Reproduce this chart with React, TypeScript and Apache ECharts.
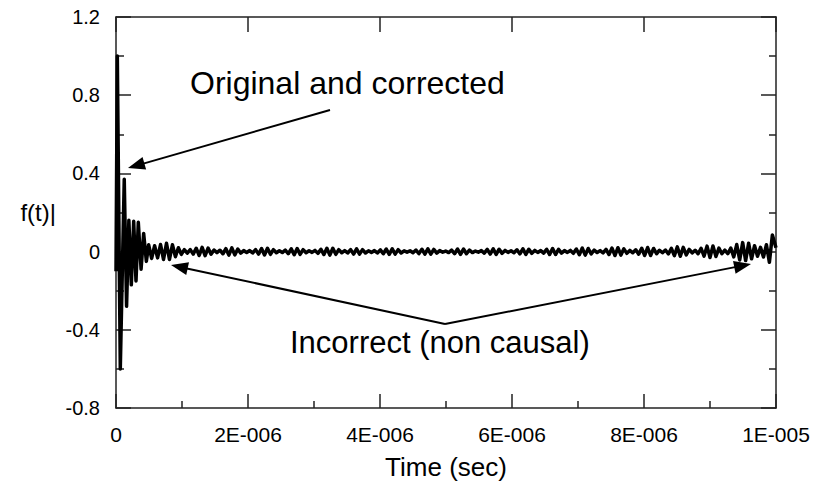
import React, { useEffect, useRef } from "react";
import * as echarts from "echarts";

// Time in microseconds (axis labels show seconds)
const ringdownTimes = [0, 0.02, 0.065, 0.125, 0.16, 0.195, 0.232, 0.268, 0.303, 0.338, 0.38, 0.419, 0.46, 0.495];
const ringdownValues = [-0.1, 1.0, -0.6, 0.37, -0.28, 0.16, -0.17, 0.155, -0.15, 0.15, -0.09, 0.093, -0.05, 0.035];

const rippleTimes = [
  0.54, 0.585, 0.63, 0.675, 0.72, 0.765, 0.81, 0.855, 0.9, 0.945,
  0.99, 1.035, 1.08, 1.125, 1.17, 1.215, 1.26, 1.305, 1.35, 1.395,
  1.44, 1.485, 1.53, 1.575, 1.62, 1.665, 1.71, 1.755, 1.8, 1.845,
  1.89, 1.935, 1.98, 2.025, 2.07, 2.115, 2.16, 2.205, 2.25, 2.295,
  2.34, 2.385, 2.43, 2.475, 2.52, 2.565, 2.61, 2.655, 2.7, 2.745,
  2.79, 2.835, 2.88, 2.925, 2.97, 3.015, 3.06, 3.105, 3.15, 3.195,
  3.24, 3.285, 3.33, 3.375, 3.42, 3.465, 3.51, 3.555, 3.6, 3.645,
  3.69, 3.735, 3.78, 3.825, 3.87, 3.915, 3.96, 4.005, 4.05, 4.095,
  4.14, 4.185, 4.23, 4.275, 4.32, 4.365, 4.41, 4.455, 4.5, 4.545,
  4.59, 4.635, 4.68, 4.725, 4.77, 4.815, 4.86, 4.905, 4.95, 4.995,
  5.04, 5.085, 5.13, 5.175, 5.22, 5.265, 5.31, 5.355, 5.4, 5.445,
  5.49, 5.535, 5.58, 5.625, 5.67, 5.715, 5.76, 5.805, 5.85, 5.895,
  5.94, 5.985, 6.03, 6.075, 6.12, 6.165, 6.21, 6.255, 6.3, 6.345,
  6.39, 6.435, 6.48, 6.525, 6.57, 6.615, 6.66, 6.705, 6.75, 6.795,
  6.84, 6.885, 6.93, 6.975, 7.02, 7.065, 7.11, 7.155, 7.2, 7.245,
  7.29, 7.335, 7.38, 7.425, 7.47, 7.515, 7.56, 7.605, 7.65, 7.695,
  7.74, 7.785, 7.83, 7.875, 7.92, 7.965, 8.01, 8.055, 8.1, 8.145,
  8.19, 8.235, 8.28, 8.325, 8.37, 8.415, 8.46, 8.505, 8.55, 8.595,
  8.64, 8.685, 8.73, 8.775, 8.82, 8.865, 8.91, 8.955, 9.0, 9.045,
  9.09, 9.135, 9.18, 9.225, 9.27, 9.315, 9.36, 9.405, 9.45, 9.495,
  9.54, 9.585, 9.63, 9.675, 9.72, 9.765, 9.81, 9.855, 9.9, 9.945,
  10.0,
];
const rippleValues = [
  -0.035, 0.03, -0.032, 0.036, -0.04, 0.043, -0.04, 0.035, -0.026, 0.02,
  -0.014, 0.01, -0.008, 0.01, -0.013, 0.017, -0.02, 0.022, -0.021, 0.018,
  -0.013, 0.008, -0.005, 0.007, -0.011, 0.015, -0.018, 0.019, -0.017, 0.013,
  -0.008, 0.005, -0.004, 0.005, -0.007, 0.01, -0.013, 0.016, -0.017, 0.017,
  -0.014, 0.01, -0.006, 0.004, -0.005, 0.008, -0.011, 0.014, -0.016, 0.016,
  -0.014, 0.01, -0.006, 0.004, -0.004, 0.006, -0.009, 0.012, -0.015, 0.017,
  -0.018, 0.017, -0.014, 0.01, -0.006, 0.005, -0.007, 0.01, -0.013, 0.014,
  -0.013, 0.01, -0.007, 0.004, -0.004, 0.005, -0.007, 0.009, -0.011, 0.013,
  -0.014, 0.014, -0.013, 0.01, -0.007, 0.004, -0.003, 0.004, -0.006, 0.008,
  -0.01, 0.012, -0.013, 0.014, -0.013, 0.011, -0.008, 0.005, -0.003, 0.003,
  -0.005, 0.008, -0.011, 0.013, -0.014, 0.013, -0.011, 0.008, -0.005, 0.003,
  -0.003, 0.005, -0.008, 0.011, -0.013, 0.014, -0.014, 0.012, -0.009, 0.006,
  -0.004, 0.004, -0.006, 0.009, -0.012, 0.014, -0.014, 0.012, -0.009, 0.006,
  -0.004, 0.005, -0.008, 0.012, -0.015, 0.016, -0.015, 0.012, -0.008, 0.005,
  -0.004, 0.006, -0.009, 0.013, -0.016, 0.018, -0.018, 0.016, -0.012, 0.008,
  -0.005, 0.005, -0.007, 0.011, -0.015, 0.018, -0.02, 0.02, -0.018, 0.014,
  -0.009, 0.006, -0.006, 0.009, -0.013, 0.017, -0.02, 0.021, -0.02, 0.016,
  -0.011, 0.007, -0.006, 0.008, -0.012, 0.017, -0.021, 0.024, -0.024, 0.022,
  -0.017, 0.011, -0.007, 0.007, -0.011, 0.017, -0.023, 0.028, -0.03, 0.029,
  -0.025, 0.018, -0.011, 0.008, -0.011, 0.018, -0.027, 0.036, -0.043, 0.046,
  -0.046, 0.043, -0.037, 0.03, -0.024, 0.022, -0.028, 0.035, -0.055, 0.085,
  0.02,
];

const xTickLabels = ["0", "2E-006", "4E-006", "6E-006", "8E-006", "1E-005"];
const yTickLabels = ["-0.8", "-0.4", "0", "0.4", "0.8", "1.2"];

const FONT = "'Liberation Sans', Arial, Helvetica, sans-serif";
const AXIS_COLOR = "#222";

function arrow(x1: number, y1: number, x2: number, y2: number, len = 17, hw = 6.5) {
  const dx = x2 - x1;
  const dy = y2 - y1;
  const L = Math.hypot(dx, dy);
  const ux = dx / L;
  const uy = dy / L;
  const bx = x2 - ux * len;
  const by = y2 - uy * len;
  return [
    {
      type: "line",
      silent: true,
      shape: { x1, y1, x2: bx + ux * 2, y2: by + uy * 2 },
      style: { stroke: "#000", lineWidth: 2 },
    },
    {
      type: "polygon",
      silent: true,
      shape: {
        points: [
          [x2, y2],
          [bx - uy * hw, by + ux * hw],
          [bx + uy * hw, by - ux * hw],
        ],
      },
      style: { fill: "#000" },
    },
  ];
}

export default function App() {
  const ref = useRef<HTMLDivElement>(null);

  useEffect(() => {
    if (!ref.current) return;
    const chart = echarts.init(ref.current, null, { renderer: "svg" });

    const data: [number, number][] = [];
    ringdownTimes.forEach((t, i) => data.push([t, ringdownValues[i]]));
    rippleTimes.forEach((t, i) => data.push([t, rippleValues[i]]));

    const lineStyle = { color: AXIS_COLOR, width: 1.5 };

    chart.setOption({
      animation: false,
      backgroundColor: "#fff",
      grid: { left: 116, top: 17, right: 39, bottom: 74, containLabel: false },
      xAxis: [
        {
          type: "value",
          position: "bottom",
          min: 0,
          max: 10,
          interval: 2,
          axisLine: { show: true, onZero: false, lineStyle },
          axisTick: { show: true, inside: true, length: 14, lineStyle },
          minorTick: { show: true, splitNumber: 2, length: 7, lineStyle },
          splitLine: { show: false },
          minorSplitLine: { show: false },
          axisLabel: {
            formatter: (v: number) => xTickLabels[Math.round(v / 2)] ?? "",
            margin: 16,
            fontSize: 21,
            color: "#000",
            fontFamily: FONT,
          },
          name: "Time (sec)",
          nameLocation: "middle",
          nameGap: 46,
          nameTextStyle: { fontSize: 26, color: "#000", fontFamily: FONT },
        },
        {
          type: "value",
          position: "top",
          min: 0,
          max: 10,
          interval: 2,
          axisLine: { show: true, onZero: false, lineStyle },
          axisTick: { show: true, inside: true, length: 15, lineStyle },
          axisLabel: { show: false },
          splitLine: { show: false },
        },
      ],
      yAxis: [
        {
          type: "value",
          position: "left",
          min: -0.8,
          max: 1.2,
          interval: 0.4,
          axisLine: { show: true, onZero: false, lineStyle },
          axisTick: { show: true, inside: true, length: 15, lineStyle },
          minorTick: { show: true, splitNumber: 2, length: 8, lineStyle },
          splitLine: { show: false },
          minorSplitLine: { show: false },
          axisLabel: {
            formatter: (v: number) => yTickLabels[Math.round((v + 0.8) / 0.4)] ?? "",
            margin: 16,
            fontSize: 20,
            color: "#000",
            fontFamily: FONT,
          },
          name: "f(t)|",
          nameLocation: "middle",
          nameRotate: 0,
          nameGap: 60,
          nameTextStyle: { fontSize: 24, color: "#000", fontFamily: FONT, padding: [0, 0, 6, 0] },
        },
        {
          type: "value",
          position: "right",
          min: -0.8,
          max: 1.2,
          interval: 0.4,
          axisLine: { show: true, onZero: false, lineStyle },
          axisTick: { show: true, inside: true, length: 15, lineStyle },
          minorTick: { show: true, splitNumber: 2, length: 7, lineStyle },
          splitLine: { show: false },
          minorSplitLine: { show: false },
          axisLabel: { show: false },
        },
      ],
      series: [
        {
          type: "line",
          xAxisIndex: 0,
          yAxisIndex: 0,
          data,
          symbol: "none",
          showSymbol: false,
          silent: true,
          clip: true,
          lineStyle: { color: "#000", width: 3.5, join: "round" },
          z: 3,
        },
      ],
      graphic: [
        ...arrow(330, 110, 128, 168),
        ...arrow(445, 324, 171, 265),
        ...arrow(445, 324, 751, 264),
        {
          type: "text",
          x: 190,
          y: 83,
          silent: true,
          style: {
            text: "Original and corrected",
            fontSize: 32,
            fontFamily: FONT,
            fill: "#000",
            align: "left",
            verticalAlign: "middle",
          },
        },
        {
          type: "text",
          x: 290,
          y: 342,
          silent: true,
          style: {
            text: "Incorrect (non causal)",
            fontSize: 31,
            fontFamily: FONT,
            fill: "#000",
            align: "left",
            verticalAlign: "middle",
          },
        },
      ],
    });

    return () => chart.dispose();
  }, []);

  return (
    <div
      ref={ref}
      style={{ position: "fixed", left: 0, top: 0, width: 815, height: 485, background: "#fff" }}
    />
  );
}
